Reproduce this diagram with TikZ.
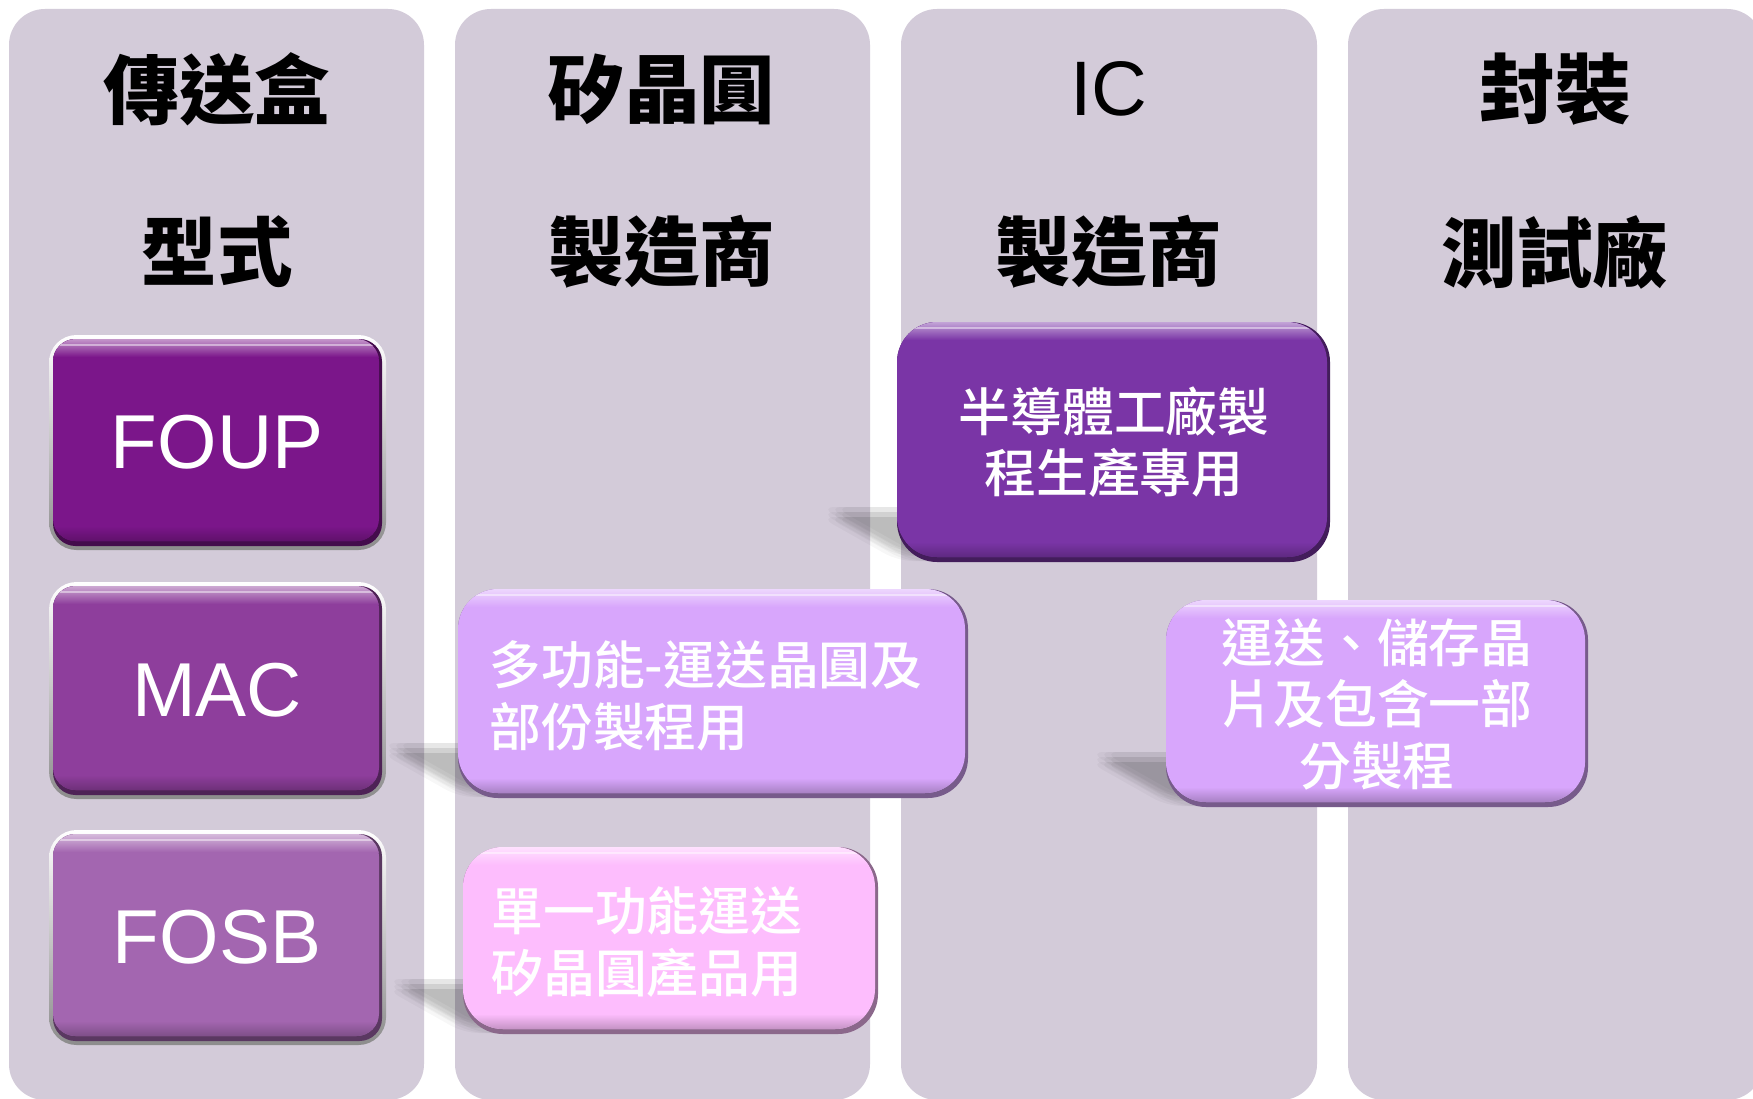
\documentclass[tikz,border=0pt]{standalone}
\usepackage{fontspec}
\setmainfont{Liberation Sans}
\newfontfamily\cjk{Noto Sans CJK TC}
\newfontfamily\cjkmid{Noto Sans CJK TC Medium}
\definecolor{colbg}{RGB}{211,203,217}
\definecolor{foupc}{RGB}{123,22,138}
\definecolor{macc}{RGB}{142,62,156}
\definecolor{fosbc}{RGB}{163,102,176}
\definecolor{fabc}{RGB}{122,53,166}
\definecolor{lavc}{RGB}{216,166,252}
\definecolor{pinkc}{RGB}{253,189,253}
\def\silverframe(#1,#2)(#3,#4){\shade[rounded corners=0.55cm, top color=white, bottom color=black!45] (#1,#2) rectangle (#3,#4);}
\def\bevelbox(#1,#2)(#3,#4)#5#6{%
  \fill[#5!55!black, rounded corners=#6] (#1,#2) rectangle (#3,#4);
  \begin{scope}
    \clip[rounded corners=#6] (#1,#2) rectangle (#3-3,#4-5);
    \fill[#5] (#1,#2) rectangle (#3,#4);
    \shade[top color=#5!45!white, bottom color=#5] (#1,#2) rectangle (#3,#2+18);
    \shade[top color=#5, bottom color=#5!70!black] (#1,#4-20) rectangle (#3,#4);
    \draw[white, opacity=0.45, line width=1.2pt] (#1,#2+6) -- (#3,#2+6);
  \end{scope}}
\def\boxshadow(#1,#2)(#3){%
  \foreach \i in {-7,0,7}
    \foreach \j in {-5,0,5}
      \fill[black, opacity=0.032, rounded corners=0.3cm, shift={(\i,\j)}] (#1+8,#3-6) -- (#1-70,#3-50) -- (#2-100,#3-50) -- (#2-40,#3-6) -- cycle;}
\tikzset{
  colhead/.style={font=\cjk\bfseries\fontsize{43}{50}\selectfont, text=black, inner sep=0pt},
  headlatin/.style={font=\fontsize{44}{50}\selectfont, text=black, inner sep=0pt},
  boxtext/.style={font=\cjkmid\fontsize{29.5}{35}\selectfont, text=white, inner sep=0pt},
  casetext/.style={font=\fontsize{43.5}{50}\selectfont, text=white, inner sep=0pt}
}

\begin{document}
\begin{tikzpicture}[x=0.02cm, y=-0.02cm]
	\useasboundingbox (0,0) rectangle (1753,1098);
	\fill[white] (0,0) rectangle (1753,1098);
	
	%%%%% columns %%%%%
	\fill[colbg, rounded corners=0.72cm] (9,9) rectangle (424,1100);
	\fill[colbg, rounded corners=0.72cm] (455,9) rectangle (870,1100);
	\fill[colbg, rounded corners=0.72cm] (901,9) rectangle (1317,1100);
	\fill[colbg, rounded corners=0.72cm] (1348,9) rectangle (1763,1100);
	
	\node[colhead] (typeA) at (217,89) {傳送盒};
	\node[colhead] (typeB) at (217,252) {型式};
	\node[colhead] (waferA) at (662,89) {矽晶圓};
	\node[colhead] (waferB) at (662,252) {製造商};
	\node[headlatin] (icA) at (1109,89) {IC};
	\node[colhead] (icB) at (1109,252) {製造商};
	\node[colhead] (packA) at (1555,89) {封裝};
	\node[colhead] (packB) at (1555,252) {測試廠};
	
	%%%%% shadows %%%%%
	\boxshadow(897,1330)(562)
	\boxshadow(458,968)(798)
	\boxshadow(463,878)(1034)
	\boxshadow(1166,1588)(807)
	
	%%%%% box types %%%%%
	\silverframe(49,335)(386,550)
	\bevelbox(53,339)(382,546){foupc}{0.45cm}
	\node[casetext] (foup) at (217,442) {FOUP};
	
	\silverframe(49,582)(386,799)
	\bevelbox(53,586)(382,795){macc}{0.45cm}
	\node[casetext] (mac) at (217,690) {MAC};
	
	\silverframe(49,830)(386,1045)
	\bevelbox(53,834)(382,1041){fosbc}{0.45cm}
	\node[casetext] (fosb) at (217,937) {FOSB};
	
	%%%%% uses %%%%%
	\bevelbox(897,322)(1330,562){fabc}{0.8cm}
	\node[boxtext, align=center] (fabuse) at (1114,442) {半導體工廠製\\程生產專用};
	
	\bevelbox(458,589)(968,798){lavc}{0.8cm}
	\node[boxtext, align=left, anchor=west] (macuse) at (489,696) {多功能-運送晶圓及\\部份製程用};
	
	\bevelbox(463,847)(878,1034){pinkc}{0.8cm}
	\node[boxtext, align=left, anchor=west] (fosbuse) at (491,942) {單一功能運送\\矽晶圓產品用};
	
	\bevelbox(1166,600)(1588,807){lavc}{0.8cm}
	\node[boxtext, align=center] (packuse) at (1377,704) {運送、儲存晶\\片及包含一部\\分製程};
\end{tikzpicture}
\end{document}
